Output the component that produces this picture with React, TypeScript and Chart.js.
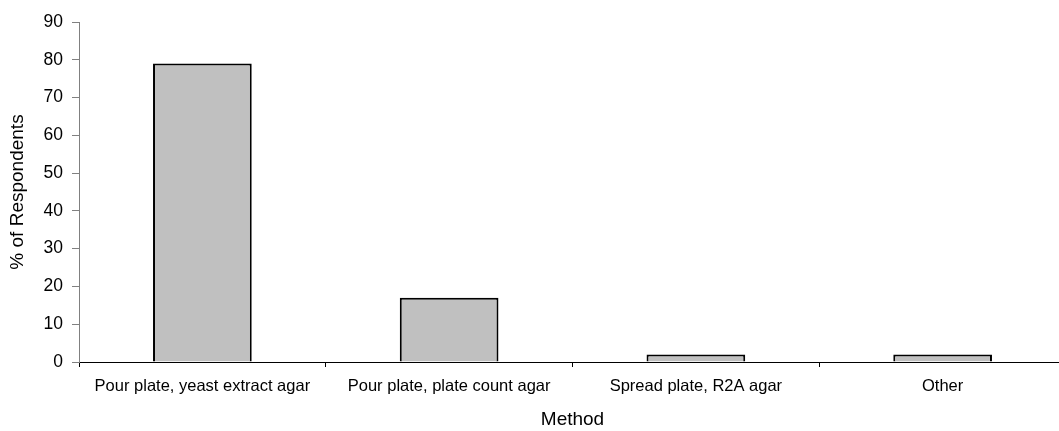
import React, { useEffect, useRef } from "react";
import { Chart, registerables } from "chart.js";

Chart.register(...registerables);

const categories = [
  "Pour plate, yeast extract agar",
  "Pour plate, plate count agar",
  "Spread plate, R2A agar",
  "Other",
];
const respondents = [79, 17, 2, 2];
const yTicks = [0, 10, 20, 30, 40, 50, 60, 70, 80, 90];

const FONT = "'Liberation Sans', Arial, sans-serif";

export default function App() {
  const ref = useRef<HTMLCanvasElement | null>(null);

  useEffect(() => {
    document.body.style.margin = "0";
    const canvas = ref.current;
    if (!canvas) return;
    const chart = new Chart(canvas, {
      type: "bar",
      data: {
        labels: categories,
        datasets: [
          {
            data: respondents,
            backgroundColor: "#c0c0c0",
            borderColor: "#000000",
            borderWidth: 2,
            categoryPercentage: 1,
            barPercentage: 0.4,
          },
        ],
      },
      options: {
        responsive: false,
        animation: false,
        devicePixelRatio: 1,
        layout: { padding: { left: 0, right: 2, top: 22, bottom: 0 } },
        plugins: {
          legend: { display: false },
          tooltip: { enabled: false },
        },
        scales: {
          x: {
            offset: true,
            afterFit: (axis: any) => {
              axis.height = 69;
            },
            grid: {
              display: true,
              offset: true,
              drawOnChartArea: false,
              drawTicks: true,
              tickLength: 5,
              color: "#000000",
            },
            border: { display: true, color: "#000000", width: 1 },
            ticks: {
              color: "#000000",
              font: { family: FONT, size: 16.5 },
              padding: 10,
              maxRotation: 0,
              autoSkip: false,
            },
            title: {
              display: true,
              text: "Method",
              color: "#000000",
              font: { family: FONT, size: 19 },
              padding: { top: 4, bottom: 0 },
            },
          },
          y: {
            min: 0,
            max: 90,
            afterBuildTicks: (axis: any) => {
              axis.ticks = yTicks.map((v) => ({ value: v }));
            },
            afterFit: (axis: any) => {
              axis.width = 79;
            },
            grid: {
              display: true,
              drawOnChartArea: false,
              drawTicks: true,
              tickLength: 7,
              color: "#808080",
            },
            border: { display: true, color: "#808080", width: 1 },
            ticks: {
              color: "#000000",
              font: { family: FONT, size: 17.5 },
              padding: 9,
            },
            title: {
              display: true,
              text: "% of Respondents",
              color: "#000000",
              font: { family: FONT, size: 19 },
              padding: { top: 6, bottom: 4 },
            },
          },
        },
      },
    });
    return () => chart.destroy();
  }, []);

  return (
    <div style={{ width: 1059, height: 431, overflow: "hidden" }}>
      <canvas ref={ref} width={1068} height={431} style={{ display: "block" }} />
    </div>
  );
}
